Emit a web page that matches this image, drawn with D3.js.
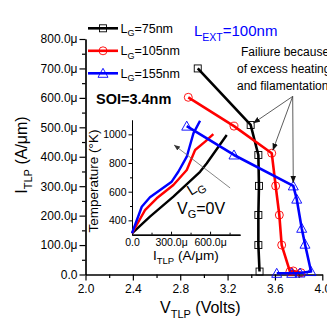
<!DOCTYPE html>
<html>
<head>
<meta charset="utf-8">
<script src="https://cdn.jsdelivr.net/npm/d3@7"></script>
<style>
  body { margin: 0; background: #fff; }
  svg { display: block; font-family: "Liberation Sans", Arial, sans-serif; }
</style>
</head>
<body>
<svg id="chart" width="327" height="322"></svg>
<script>
// Main TLP curves: [V_TLP (V), I_TLP (uA/um)]
var lg75  = [[3.47, 10], [3.46, 100], [3.46, 202], [3.465, 301], [3.46, 406], [3.395, 508], [2.948, 700]];
var lg105 = [[3.82, 6], [3.755, 12], [3.727, 10], [3.657, 100], [3.637, 202], [3.606, 301], [3.573, 412], [3.254, 504], [2.868, 602]];
var lg155 = [[3.615, 4], [3.742, 4], [3.812, 5], [3.905, 10], [3.854, 103], [3.826, 157], [3.784, 256], [3.755, 301], [3.254, 406], [2.855, 504]];

// Inset: [I_TLP (uA/um), Temperature (K)]
var tBlack = [[0, 310], [138, 426], [318, 565], [523, 739], [575, 798], [728, 995]];
var tRed   = [[0, 310], [100, 472], [190, 554], [318, 647], [421, 751], [485, 891], [562, 949], [625, 1002]];
var tBlue  = [[0, 310], [75, 495], [138, 561], [305, 670], [356, 739], [421, 844], [472, 1007], [523, 1095]];

var xTicks  = [2.0, 2.4, 2.8, 3.2, 3.6, 4.0];
var yTicks  = [0, 100, 200, 300, 400, 500, 600, 700, 800];
var ixTicks = [0, 300, 600];
var iyTicks = [400, 600, 800, 1000];

var legendNames = ["75nm", "105nm", "155nm"];
var colors = ["#000000", "#ff0000", "#0000ff"];

var svg = d3.select('#chart');

var x = d3.scaleLinear().domain([2.0, 4.0]).range([85.5, 322.3]);
var y = d3.scaleLinear().domain([0, 800]).range([274.5, 39]);

var xi = d3.scaleLinear().domain([0, 830]).range([132, 240]);
var yi = d3.scaleLinear().domain([300, 1100]).range([234.7, 120]);

var defs = svg.append('defs');
defs.append('marker')
  .attr('id', 'arr')
  .attr('viewBox', '0 0 10 10')
  .attr('refX', 10).attr('refY', 5)
  .attr('markerWidth', 7).attr('markerHeight', 7)
  .attr('markerUnits', 'userSpaceOnUse')
  .attr('orient', 'auto')
  .append('path').attr('d', 'M0,1 L10,5 L0,9 Z').attr('fill', '#111');
defs.append('marker')
  .attr('id', 'arrGray')
  .attr('viewBox', '0 0 10 10')
  .attr('refX', 10).attr('refY', 5)
  .attr('markerWidth', 6).attr('markerHeight', 6)
  .attr('markerUnits', 'userSpaceOnUse')
  .attr('orient', 'auto')
  .append('path').attr('d', 'M0,1 L10,5 L0,9 Z').attr('fill', '#333');

// helper for text with subscripts: parts = [[text, isSub], ...]
var subText = function(sel, parts, size, subSize, drop) {
  var cur = 0;
  parts.forEach(function(p) {
    var want = p[1] ? drop : 0;
    sel.append('tspan')
      .attr('dy', want - cur)
      .attr('font-size', p[1] ? subSize : size)
      .text(p[0]);
    cur = want;
  });
  return sel;
};

// ---------- Inset ----------
var inset = svg.append('g').attr('class', 'inset');

inset.append('g')
  .attr('transform', 'translate(' + xi.range()[0] + ',0)')
  .call(d3.axisLeft(yi).tickValues([500, 700, 900]).tickSize(2).tickSizeOuter(0).tickFormat(''));
inset.append('g')
  .attr('transform', 'translate(' + xi.range()[0] + ',0)')
  .call(d3.axisLeft(yi).tickValues(iyTicks).tickSize(3.5).tickSizeOuter(0).tickPadding(2)
    .tickFormat(d3.format('d')))
  .selectAll('text').attr('font-size', 10.5).attr('font-family', null);

inset.append('g')
  .attr('transform', 'translate(0,' + yi.range()[0] + ')')
  .call(d3.axisTop(xi).tickValues([150, 450, 750]).tickSize(2).tickSizeOuter(0).tickFormat(''));
var ixAxis = inset.append('g')
  .attr('transform', 'translate(0,' + yi.range()[0] + ')')
  .call(d3.axisBottom(xi).tickValues(ixTicks).tickSize(0).tickSizeOuter(0).tickPadding(4)
    .tickFormat(function(d) { return d === 0 ? '0.0' : d.toFixed(1) + 'μ'; }));
ixAxis.selectAll('text').attr('font-size', 10.5).attr('font-family', null);
inset.append('g')
  .attr('transform', 'translate(0,' + yi.range()[0] + ')')
  .call(d3.axisTop(xi).tickValues(ixTicks).tickSize(3).tickSizeOuter(0).tickFormat(''));
inset.selectAll('.domain').attr('stroke', '#000');

var lineI = d3.line()
  .x(function(d) { return xi(d[0]); })
  .y(function(d) { return yi(d[1]); });

[tBlack, tRed, tBlue].forEach(function(s, i) {
  inset.append('path')
    .attr('d', lineI(s))
    .attr('fill', 'none')
    .attr('stroke', colors[i])
    .attr('stroke-width', 2.4)
    .attr('stroke-linejoin', 'round');
});

// L_G trend arrow
inset.append('line')
  .attr('x1', xi(754)).attr('y1', yi(626))
  .attr('x2', xi(323)).attr('y2', yi(926))
  .attr('stroke', '#666').attr('stroke-width', 0.8)
  .attr('marker-end', 'url(#arrGray)');

var lgLbl = inset.append('text')
  .attr('transform', 'translate(191,196) rotate(-32)');
subText(lgLbl, [['L', false], ['G', true]], 15, 11, 4);

var vgLbl = inset.append('text').attr('x', 177).attr('y', 213.5);
subText(vgLbl, [['V', false], ['G', true], ['=0V', false]], 16, 11, 4.5);

// inset axis titles
inset.append('text')
  .attr('transform', 'translate(98,181) rotate(-90)')
  .attr('text-anchor', 'middle')
  .attr('font-size', 13.5)
  .text('Temperature (°K)');

var itX = inset.append('text')
  .attr('x', 153).attr('y', 260);
subText(itX, [['I', false], ['TLP', true], [' (A/μm)', false]], 13.5, 9.5, 4);

// ---------- Main axes ----------
var main = svg.append('g').attr('class', 'main');

main.append('g')
  .attr('transform', 'translate(0,' + y.range()[0] + ')')
  .call(d3.axisBottom(x).tickValues([2.2, 2.6, 3.0, 3.4, 3.8]).tickSize(3.5).tickSizeOuter(0).tickFormat(''));
var xAxis = main.append('g')
  .attr('transform', 'translate(0,' + y.range()[0] + ')')
  .call(d3.axisBottom(x).tickValues(xTicks).tickSize(6).tickSizeOuter(0).tickPadding(4)
    .tickFormat(function(d) { return d.toFixed(1); }));
xAxis.selectAll('text').attr('font-size', 12).attr('font-family', null);

main.append('g')
  .attr('transform', 'translate(' + x.range()[0] + ',0)')
  .call(d3.axisLeft(y).tickValues(d3.range(50, 800, 100)).tickSize(3.5).tickSizeOuter(0).tickFormat(''));
var yAxis = main.append('g')
  .attr('transform', 'translate(' + x.range()[0] + ',0)')
  .call(d3.axisLeft(y).tickValues(yTicks).tickSize(6).tickSizeOuter(0).tickPadding(2)
    .tickFormat(function(d) { return d === 0 ? '0.0' : d.toFixed(1) + 'μ'; }));
yAxis.selectAll('text').attr('font-size', 12).attr('font-family', null);
main.selectAll('.domain').attr('stroke', '#000').attr('stroke-width', 1.2);
main.selectAll('.tick line').attr('stroke-width', 1.2);

// axis titles
var tX = main.append('text').attr('x', 160).attr('y', 313);
subText(tX, [['V', false], ['TLP', true], [' (Volts)', false]], 16, 11, 5);

var tY = main.append('text')
  .attr('transform', 'translate(27,155) rotate(-90)')
  .attr('text-anchor', 'middle');
subText(tY, [['I', false], ['TLP', true], [' (A/μm)', false]], 16, 11, 5);

// ---------- Main curves ----------
var line = d3.line()
  .x(function(d) { return x(d[0]); })
  .y(function(d) { return y(d[1]); });

var drawMarker = function(g, kind, cx, cy, color) {
  if (kind === 0) {
    g.append('rect')
      .attr('x', cx - 3.5).attr('y', cy - 3.5)
      .attr('width', 7).attr('height', 7)
      .attr('fill', 'none').attr('stroke', color).attr('stroke-width', 0.9);
  } else if (kind === 1) {
    g.append('circle')
      .attr('cx', cx).attr('cy', cy).attr('r', 4)
      .attr('fill', 'none').attr('stroke', color).attr('stroke-width', 0.9);
  } else {
    g.append('path')
      .attr('d', 'M' + cx + ',' + (cy - 5) + 'L' + (cx + 5) + ',' + (cy + 4) + 'L' + (cx - 5) + ',' + (cy + 4) + 'Z')
      .attr('fill', 'none').attr('stroke', color).attr('stroke-width', 0.9);
  }
};

[lg75, lg105, lg155].forEach(function(s, i) {
  main.append('path')
    .attr('d', line(s))
    .attr('fill', 'none')
    .attr('stroke', colors[i])
    .attr('stroke-width', 2.6)
    .attr('stroke-linejoin', 'round');
  var mg = main.append('g');
  s.forEach(function(d) { drawMarker(mg, i, x(d[0]), y(d[1]), colors[i]); });
});

// ---------- Legend ----------
var legend = svg.append('g').attr('class', 'legend');
legendNames.forEach(function(name, i) {
  var ly = 28.3 + i * 22.5;
  legend.append('line')
    .attr('x1', 88).attr('x2', 118).attr('y1', ly).attr('y2', ly)
    .attr('stroke', colors[i]).attr('stroke-width', 2.6);
  drawMarker(legend, i, 103, ly, colors[i]);
  var t = legend.append('text').attr('x', 120.5).attr('y', ly + 4.3);
  subText(t, [['L', false], ['G', true], ['=' + name, false]], 12.5, 9, 3.5);
});

svg.append('text')
  .attr('x', 96).attr('y', 104)
  .attr('font-size', 14.5).attr('font-weight', 'bold')
  .text('SOI=3.4nm');

var lext = svg.append('text').attr('x', 194).attr('y', 36).attr('fill', '#0000ff');
subText(lext, [['L', false], ['EXT', true], ['=100nm', false]], 15, 10.5, 5);

// ---------- Failure annotation ----------
var note = svg.append('g').attr('font-size', 12);
note.append('text').attr('x', 241).attr('y', 56).text('Failiure because');
note.append('text').attr('x', 237).attr('y', 73).text('of excess heating');
note.append('text').attr('x', 237).attr('y', 90).text('and filamentation');

var fromV = 3.75, fromI = 605;
[lg75[5], lg105[6], lg155[7]].forEach(function(p) {
  var x1 = x(fromV), y1 = y(fromI), x2 = x(p[0]), y2 = y(p[1]);
  var len = Math.sqrt((x2 - x1) * (x2 - x1) + (y2 - y1) * (y2 - y1));
  var k = (len - 3) / len;
  svg.append('line')
    .attr('x1', x1).attr('y1', y1)
    .attr('x2', x1 + (x2 - x1) * k).attr('y2', y1 + (y2 - y1) * k)
    .attr('stroke', '#333').attr('stroke-width', 0.8)
    .attr('marker-end', 'url(#arr)');
});
</script>
</body>
</html>
